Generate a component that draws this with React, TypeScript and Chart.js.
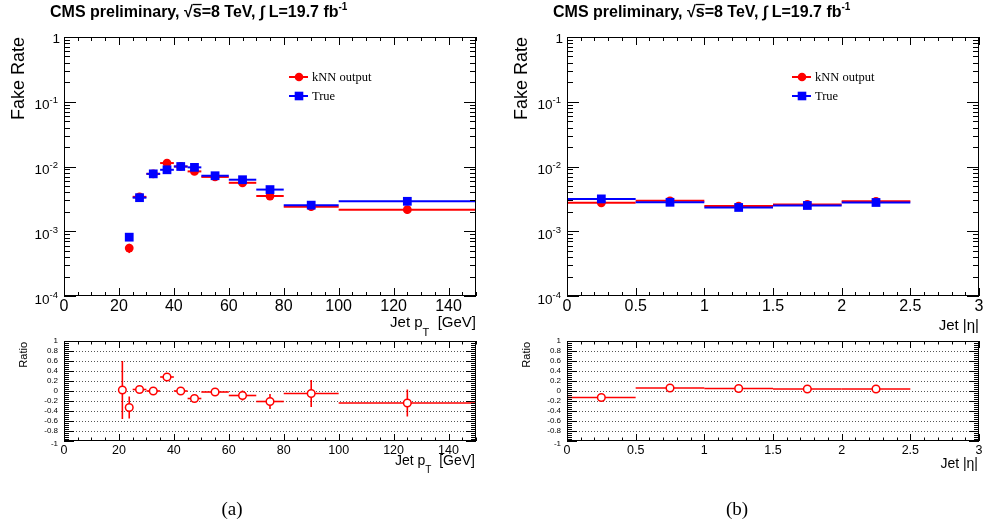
import React, { useEffect, useRef } from 'react';
import { Chart, registerables } from 'chart.js';
Chart.register(...registerables);

const W = 986;
const H = 531;
const SANS = '"Liberation Sans", Arial, Helvetica, sans-serif';
const SERIF = '"Liberation Serif", "Times New Roman", serif';

// ---------------- data: jet pT ----------------
const ptCenter = [23.75, 27.5, 32.5, 37.5, 42.5, 47.5, 55, 65, 75, 90, 125];
const ptLow = [22.5, 25, 30, 35, 40, 45, 50, 60, 70, 80, 100];
const ptHigh = [25, 30, 35, 40, 45, 50, 60, 70, 80, 100, 150];
const ptKnn = [5.5e-4, 3.4e-3, 7.7e-3, 1.13e-2, 1.0e-2, 8.4e-3, 6.9e-3, 5.6e-3, 3.5e-3, 2.4e-3, 2.15e-3];
const ptKnnErr = [0.9e-4, 0.2e-3, 0.3e-3, 0.6e-3, 0.4e-3, 0.4e-3, 0.3e-3, 0.3e-3, 0.4e-3, 0.35e-3, 0.3e-3];
const ptTrue = [8.1e-4, 3.3e-3, 7.7e-3, 8.9e-3, 1.0e-2, 9.7e-3, 7.2e-3, 6.25e-3, 4.4e-3, 2.53e-3, 2.9e-3];
const ptTrueErr = [0.6e-4, 0.15e-3, 0.25e-3, 0.3e-3, 0.3e-3, 0.3e-3, 0.2e-3, 0.2e-3, 0.3e-3, 0.2e-3, 0.25e-3];

const ptRatioCenter = [21.25, 23.75, 27.5, 32.5, 37.5, 42.5, 47.5, 55, 65, 75, 90, 125];
const ptRatioLow = [20, 22.5, 25, 30, 35, 40, 45, 50, 60, 70, 80, 100];
const ptRatioHigh = [22.5, 25, 30, 35, 40, 45, 50, 60, 70, 80, 100, 150];
const ptRatio = [0.02, -0.33, 0.03, 0.0, 0.28, 0.0, -0.15, -0.02, -0.09, -0.21, -0.05, -0.24];
const ptRatioErr = [0.58, 0.22, 0.06, 0.04, 0.08, 0.07, 0.06, 0.07, 0.1, 0.15, 0.27, 0.27];

// ---------------- data: jet |eta| ----------------
const etaCenter = [0.25, 0.75, 1.25, 1.75, 2.25];
const etaLow = [0, 0.5, 1, 1.5, 2];
const etaHigh = [0.5, 1, 1.5, 2, 2.5];
const etaKnn = [2.75e-3, 2.95e-3, 2.45e-3, 2.6e-3, 2.9e-3];
const etaKnnErr = [0.08e-3, 0.08e-3, 0.08e-3, 0.08e-3, 0.12e-3];
const etaTrue = [3.16e-3, 2.8e-3, 2.33e-3, 2.5e-3, 2.78e-3];
const etaTrueErr = [0.06e-3, 0.06e-3, 0.06e-3, 0.06e-3, 0.08e-3];
const etaRatio = [-0.13, 0.06, 0.05, 0.04, 0.04];
const etaRatioErr = [0.03, 0.03, 0.03, 0.03, 0.07];

// ---------------- tick labels ----------------
const ptTickLabels = ['0', '20', '40', '60', '80', '100', '120', '140'];
const ptTickValues = [0, 20, 40, 60, 80, 100, 120, 140];
const etaTickLabels = ['0', '0.5', '1', '1.5', '2', '2.5', '3'];
const etaTickValues = [0, 0.5, 1, 1.5, 2, 2.5, 3];
const logExponents = [0, -1, -2, -3, -4];
const ratioTickValues = [1, 0.8, 0.6, 0.4, 0.2, 0, -0.2, -0.4, -0.6, -0.8, -1];
const ratioTickLabels = ['1', '0.8', '0.6', '0.4', '0.2', '0', '-0.2', '-0.4', '-0.6', '-0.8', '-1'];

const RED = '#ff0000';
const BLUE = '#0000ff';

type Part = { t: string; size: number; bold?: boolean; dy?: number; family?: string; over?: boolean };

function fontOf(p: Part) {
  return `${p.bold ? 'bold ' : ''}${p.size}px ${p.family ?? SANS}`;
}

function rich(ctx: CanvasRenderingContext2D, parts: Part[], x: number, y: number, align: 'left' | 'right' | 'center') {
  ctx.save();
  ctx.textAlign = 'left';
  ctx.textBaseline = 'alphabetic';
  const ws = parts.map((p) => {
    ctx.font = fontOf(p);
    return ctx.measureText(p.t).width;
  });
  const total = ws.reduce((a, b) => a + b, 0);
  let cx = align === 'left' ? x : align === 'right' ? x - total : x - total / 2;
  parts.forEach((p, i) => {
    ctx.font = fontOf(p);
    const yy = y + (p.dy ?? 0);
    ctx.fillText(p.t, cx, yy);
    if (p.over) {
      ctx.fillRect(cx, yy - p.size * 0.82, ws[i], 1.3);
    }
    cx += ws[i];
  });
  ctx.restore();
}

type Series = {
  x: number[];
  y: number[];
  xlo: number[];
  xhi: number[];
  err: number[];
  color: string;
  kind: 'circle' | 'square' | 'hollow';
};

type Spec = {
  id: string;
  area: [number, number, number, number];
  xMin: number;
  xMax: number;
  xMajor: number;
  xMinor: number;
  xTickValues: number[];
  xTickLabels: string[];
  xLabelSize: number;
  xLabelBaseline: number;
  xMajLen: number;
  xMinLen: number;
  log: boolean;
  yMin: number;
  yMax: number;
  series: Series[];
  decorate: (ctx: CanvasRenderingContext2D, chart: Chart) => void;
};

function title(ctx: CanvasRenderingContext2D, x: number) {
  const s = 16;
  rich(
    ctx,
    [
      { t: 'CMS preliminary, ', size: s, bold: true },
      { t: '\u221A', size: s, bold: true },
      { t: 's', size: s, bold: true, over: true },
      { t: '=8 TeV, ', size: s, bold: true },
      { t: '\u222B', size: s, bold: true },
      { t: ' L=19.7 fb', size: s, bold: true },
      { t: '-1', size: 10, bold: true, dy: -7 },
    ],
    x,
    17,
    'left'
  );
}

function rotatedLabel(ctx: CanvasRenderingContext2D, text: string, size: number, x: number, yEnd: number) {
  ctx.save();
  ctx.translate(x, yEnd);
  ctx.rotate(-Math.PI / 2);
  rich(ctx, [{ t: text, size }], 0, 0, 'right');
  ctx.restore();
}

function logYLabels(ctx: CanvasRenderingContext2D, chart: Chart, xRight: number) {
  const ys = chart.scales.y;
  ctx.fillStyle = '#000';
  logExponents.forEach((e) => {
    const py = ys.getPixelForValue(Math.pow(10, e));
    if (e === 0) {
      rich(ctx, [{ t: '1', size: 13.5 }], xRight + 2, py + 6, 'right');
    } else {
      rich(ctx, [{ t: '10', size: 13.5 }, { t: String(e), size: 9.5, dy: -6 }], xRight, py + 7.5, 'right');
    }
  });
}

function legend(ctx: CanvasRenderingContext2D, cx: number) {
  ctx.save();
  ctx.lineWidth = 2;
  // kNN output
  ctx.strokeStyle = RED;
  ctx.beginPath();
  ctx.moveTo(cx - 10, 77);
  ctx.lineTo(cx + 9, 77);
  ctx.stroke();
  ctx.fillStyle = RED;
  ctx.beginPath();
  ctx.arc(cx, 77, 4.3, 0, Math.PI * 2);
  ctx.fill();
  // True
  ctx.strokeStyle = BLUE;
  ctx.beginPath();
  ctx.moveTo(cx - 10, 96);
  ctx.lineTo(cx + 9, 96);
  ctx.stroke();
  ctx.fillStyle = BLUE;
  ctx.fillRect(cx - 4.3, 96 - 4.3, 8.6, 8.6);
  ctx.fillStyle = '#000';
  rich(ctx, [{ t: 'kNN output', size: 12.5, family: SERIF }], cx + 13, 81, 'left');
  rich(ctx, [{ t: 'True', size: 12.5, family: SERIF }], cx + 13, 100, 'left');
  ctx.restore();
}

function ratioYLabels(ctx: CanvasRenderingContext2D, chart: Chart, xRight: number) {
  const ys = chart.scales.y;
  ctx.save();
  ctx.fillStyle = '#000';
  ctx.font = `8px ${SANS}`;
  ctx.textAlign = 'right';
  ctx.textBaseline = 'middle';
  ratioTickValues.forEach((v, i) => {
    const py = ys.getPixelForValue(v) + (v === -1 ? 3 : 0);
    ctx.fillText(ratioTickLabels[i], xRight, py);
  });
  ctx.restore();
}

function ratioGrid(ctx: CanvasRenderingContext2D, chart: Chart) {
  const ys = chart.scales.y;
  const { left, right } = chart.chartArea;
  ctx.save();
  ctx.strokeStyle = '#555';
  ctx.lineWidth = 1;
  ctx.setLineDash([1, 2]);
  ratioTickValues.forEach((v) => {
    if (Math.abs(v) > 0.99) return;
    const py = Math.round(ys.getPixelForValue(v)) + 0.5;
    ctx.beginPath();
    ctx.moveTo(left, py);
    ctx.lineTo(right, py);
    ctx.stroke();
  });
  ctx.restore();
}

function makePlugin(spec: Spec) {
  return {
    id: 'rootStyle' + spec.id,
    beforeDatasetsDraw(chart: Chart) {
      const ctx = chart.ctx;
      const xs = chart.scales.x;
      const ys = chart.scales.y;
      const { left, top, right, bottom } = chart.chartArea;
      ctx.save();
      if (!spec.log) ratioGrid(ctx, chart);
      ctx.beginPath();
      ctx.rect(left, top, right - left, bottom - top);
      ctx.clip();
      spec.series.forEach((s) => {
        ctx.strokeStyle = s.color;
        s.x.forEach((xv, j) => {
          const py = ys.getPixelForValue(s.y[j]);
          ctx.lineWidth = s.kind === 'hollow' ? 1.6 : 2;
          ctx.beginPath();
          ctx.moveTo(xs.getPixelForValue(s.xlo[j]), py);
          ctx.lineTo(xs.getPixelForValue(s.xhi[j]), py);
          ctx.stroke();
          const px = xs.getPixelForValue(xv);
          ctx.lineWidth = 1.6;
          ctx.beginPath();
          ctx.moveTo(px, ys.getPixelForValue(s.y[j] - s.err[j]));
          ctx.lineTo(px, ys.getPixelForValue(s.y[j] + s.err[j]));
          ctx.stroke();
        });
      });
      ctx.restore();
    },
    afterDraw(chart: Chart) {
      const ctx = chart.ctx;
      const xs = chart.scales.x;
      const ys = chart.scales.y;
      const { left, top, right, bottom } = chart.chartArea;
      ctx.save();
      ctx.strokeStyle = '#000';
      ctx.lineWidth = 1;
      ctx.strokeRect(left + 0.5, top + 0.5, right - left - 1, bottom - top - 1);
      ctx.beginPath();
      // x ticks
      const n = Math.round((spec.xMax - spec.xMin) / spec.xMinor);
      for (let i = 0; i <= n; i++) {
        const v = spec.xMin + i * spec.xMinor;
        const r = v / spec.xMajor;
        const major = Math.abs(r - Math.round(r)) < 1e-6;
        const len = major ? spec.xMajLen : spec.xMinLen;
        const px = Math.round(xs.getPixelForValue(v)) + 0.5;
        ctx.moveTo(px, bottom);
        ctx.lineTo(px, bottom - len);
        ctx.moveTo(px, top);
        ctx.lineTo(px, top + len);
      }
      // y ticks
      if (spec.log) {
        for (let e = -4; e <= 0; e++) {
          for (let k = 1; k <= 9; k++) {
            const v = k * Math.pow(10, e);
            if (v > spec.yMax * 1.0001) break;
            const len = k === 1 ? 12 : 6;
            const py = Math.round(ys.getPixelForValue(v)) + 0.5;
            ctx.moveTo(left, py);
            ctx.lineTo(left + len, py);
            ctx.moveTo(right, py);
            ctx.lineTo(right - len, py);
          }
        }
      } else {
        for (let i = 0; i <= 50; i++) {
          const v = -1 + i * 0.04;
          const len = i % 5 === 0 ? 10 : 5;
          const py = Math.round(ys.getPixelForValue(v)) + 0.5;
          ctx.moveTo(left, py);
          ctx.lineTo(left + len, py);
          ctx.moveTo(right, py);
          ctx.lineTo(right - len, py);
        }
      }
      ctx.stroke();
      // x tick labels
      ctx.fillStyle = '#000';
      ctx.font = `${spec.xLabelSize}px ${SANS}`;
      ctx.textAlign = 'center';
      ctx.textBaseline = 'alphabetic';
      spec.xTickValues.forEach((v, i) => {
        ctx.fillText(spec.xTickLabels[i], xs.getPixelForValue(v), spec.xLabelBaseline);
      });
      ctx.restore();
      ctx.save();
      ctx.fillStyle = '#000';
      spec.decorate(ctx, chart);
      ctx.restore();
    },
  };
}

function Plot({ spec }: { spec: Spec }) {
  const ref = useRef<HTMLCanvasElement>(null);
  useEffect(() => {
    const c = ref.current!;
    const [l, t, r, b] = spec.area;
    const n = spec.series.length;
    const chart = new Chart(c, {
      type: 'scatter',
      data: {
        datasets: spec.series.map((s, i) => ({
          data: s.x.map((x, j) => ({ x, y: s.y[j] })),
          order: n - 1 - i,
          showLine: false,
          pointStyle: s.kind === 'square' ? 'rect' : 'circle',
          pointRadius: s.kind === 'square' ? 6.2 : s.kind === 'circle' ? 4.4 : 3.8,
          pointBackgroundColor: s.kind === 'hollow' ? '#ffffff' : s.color,
          pointBorderColor: s.color,
          pointBorderWidth: s.kind === 'hollow' ? 1.5 : 0,
        })),
      },
      options: {
        responsive: false,
        animation: false,
        devicePixelRatio: 1,
        events: [],
        layout: { padding: { left: l, top: t, right: W - r, bottom: H - b } },
        plugins: { legend: { display: false }, tooltip: { enabled: false } },
        scales: {
          x: { type: 'linear', min: spec.xMin, max: spec.xMax, display: false },
          y: { type: spec.log ? 'logarithmic' : 'linear', min: spec.yMin, max: spec.yMax, display: false },
        },
      },
      plugins: [makePlugin(spec)],
    } as any);
    return () => chart.destroy();
  }, [spec]);
  return <canvas ref={ref} width={W} height={H} style={{ position: 'absolute', left: 0, top: 0 }} />;
}

const DX = 503;

const leftMain: Spec = {
  id: 'lm',
  area: [64, 37, 476, 296],
  xMin: 0,
  xMax: 150,
  xMajor: 20,
  xMinor: 5,
  xTickValues: ptTickValues,
  xTickLabels: ptTickLabels,
  xLabelSize: 16,
  xLabelBaseline: 311,
  xMajLen: 8,
  xMinLen: 4,
  log: true,
  yMin: 1e-4,
  yMax: 1,
  series: [
    { x: ptCenter, y: ptKnn, xlo: ptLow, xhi: ptHigh, err: ptKnnErr, color: RED, kind: 'circle' },
    { x: ptCenter, y: ptTrue, xlo: ptLow, xhi: ptHigh, err: ptTrueErr, color: BLUE, kind: 'square' },
  ],
  decorate: (ctx, chart) => {
    title(ctx, 50);
    rotatedLabel(ctx, 'Fake Rate', 18, 23.5, 37);
    logYLabels(ctx, chart, 58);
    rich(ctx, [{ t: 'Jet p', size: 15 }, { t: 'T', size: 11, dy: 9 }, { t: '  [GeV]', size: 15 }], 476, 327, 'right');
    legend(ctx, 299);
  },
};

const rightMain: Spec = {
  id: 'rm',
  area: [64 + DX, 37, 476 + DX, 296],
  xMin: 0,
  xMax: 3,
  xMajor: 0.5,
  xMinor: 0.1,
  xTickValues: etaTickValues,
  xTickLabels: etaTickLabels,
  xLabelSize: 16,
  xLabelBaseline: 311,
  xMajLen: 8,
  xMinLen: 4,
  log: true,
  yMin: 1e-4,
  yMax: 1,
  series: [
    { x: etaCenter, y: etaKnn, xlo: etaLow, xhi: etaHigh, err: etaKnnErr, color: RED, kind: 'circle' },
    { x: etaCenter, y: etaTrue, xlo: etaLow, xhi: etaHigh, err: etaTrueErr, color: BLUE, kind: 'square' },
  ],
  decorate: (ctx, chart) => {
    title(ctx, 50 + DX);
    rotatedLabel(ctx, 'Fake Rate', 18, 23.5 + DX, 37);
    logYLabels(ctx, chart, 58 + DX);
    rich(ctx, [{ t: 'Jet |\u03B7|', size: 15 }], 979, 330, 'right');
    legend(ctx, 299 + DX);
  },
};

const leftRatio: Spec = {
  id: 'lr',
  area: [64, 341, 476, 441],
  xMin: 0,
  xMax: 150,
  xMajor: 20,
  xMinor: 5,
  xTickValues: ptTickValues,
  xTickLabels: ptTickLabels,
  xLabelSize: 12.5,
  xLabelBaseline: 454,
  xMajLen: 7,
  xMinLen: 3.5,
  log: false,
  yMin: -1,
  yMax: 1,
  series: [
    { x: ptRatioCenter, y: ptRatio, xlo: ptRatioLow, xhi: ptRatioHigh, err: ptRatioErr, color: RED, kind: 'hollow' },
  ],
  decorate: (ctx, chart) => {
    rotatedLabel(ctx, 'Ratio', 11, 27, 342);
    ratioYLabels(ctx, chart, 58);
    rich(ctx, [{ t: 'Jet p', size: 14 }, { t: 'T', size: 10, dy: 8 }, { t: '  [GeV]', size: 14 }], 475, 465, 'right');
    rich(ctx, [{ t: '(a)', size: 19, family: SERIF }], 232, 515, 'center');
  },
};

const rightRatio: Spec = {
  id: 'rr',
  area: [64 + DX, 341, 476 + DX, 441],
  xMin: 0,
  xMax: 3,
  xMajor: 0.5,
  xMinor: 0.1,
  xTickValues: etaTickValues,
  xTickLabels: etaTickLabels,
  xLabelSize: 12.5,
  xLabelBaseline: 454,
  xMajLen: 7,
  xMinLen: 3.5,
  log: false,
  yMin: -1,
  yMax: 1,
  series: [
    { x: etaCenter, y: etaRatio, xlo: etaLow, xhi: etaHigh, err: etaRatioErr, color: RED, kind: 'hollow' },
  ],
  decorate: (ctx, chart) => {
    rotatedLabel(ctx, 'Ratio', 11, 27 + DX, 342);
    ratioYLabels(ctx, chart, 58 + DX);
    rich(ctx, [{ t: 'Jet |\u03B7|', size: 14 }], 978, 468, 'right');
    rich(ctx, [{ t: '(b)', size: 19, family: SERIF }], 737, 515, 'center');
  },
};

export default function App() {
  return (
    <div style={{ position: 'fixed', left: 0, top: 0, width: W, height: H, background: '#ffffff', overflow: 'hidden' }}>
      <Plot spec={leftMain} />
      <Plot spec={rightMain} />
      <Plot spec={leftRatio} />
      <Plot spec={rightRatio} />
    </div>
  );
}
